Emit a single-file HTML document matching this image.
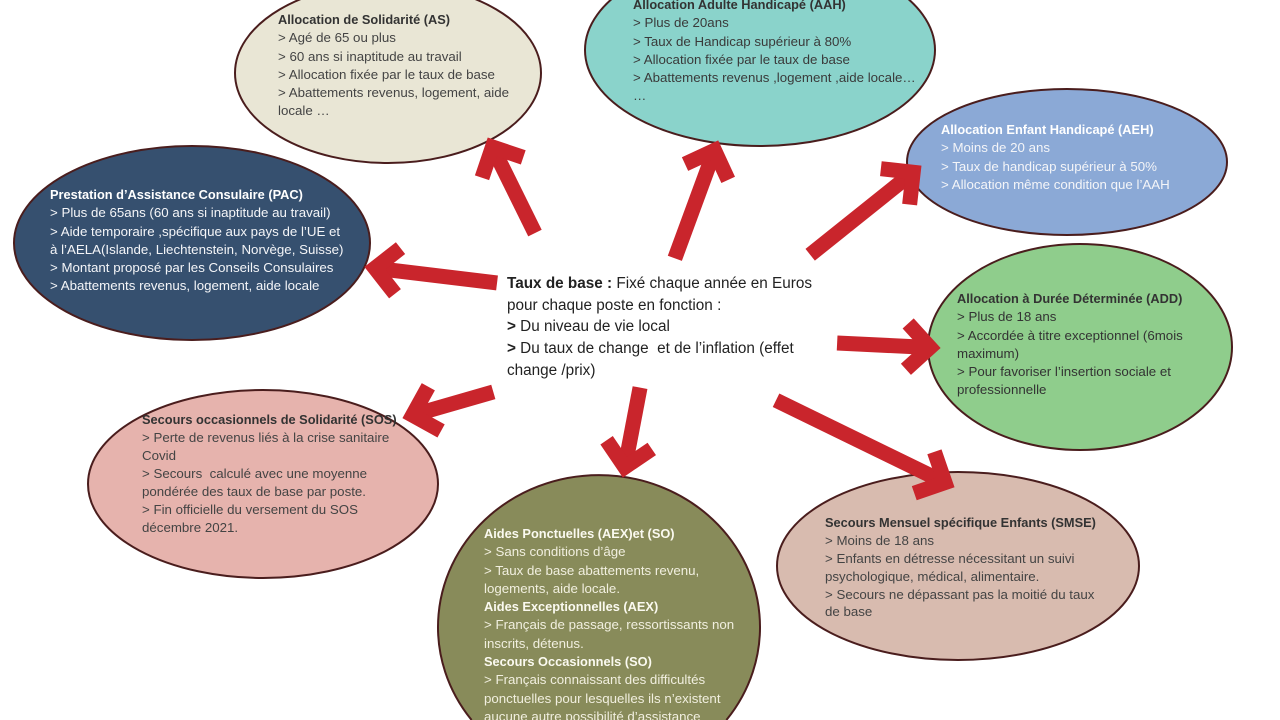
<!DOCTYPE html>
<html><head><meta charset="utf-8">
<style>
html,body{margin:0;padding:0;background:#fff;width:1280px;height:720px;overflow:hidden;}
#c{position:relative;width:1280px;height:720px;overflow:hidden;background:#fff;}
svg{position:absolute;left:0;top:0;}
.t{position:absolute;font-family:"Liberation Sans",sans-serif;font-size:13.3px;line-height:18.3px;white-space:nowrap;color:#444;}
.t b{font-size:12.8px;font-weight:bold;color:#333;}
.t div{height:18.3px;}
.w{color:#f4f5f8;} .w b{color:#fff;}
.o{color:#f1efdf;} .o b{color:#fbfaf0;}
#ctr{position:absolute;left:507px;top:273px;font-family:"Liberation Sans",sans-serif;font-size:15.3px;line-height:21.7px;color:#222;white-space:nowrap;}
#ctr div{height:21.7px;}
</style></head><body><div id="c">
<svg width="1280" height="720" viewBox="0 0 1280 720">
 <g stroke="#4a1d1d" stroke-width="2">
  <ellipse cx="388" cy="73" rx="153" ry="90" fill="#e9e6d5"/>
  <ellipse cx="760" cy="50" rx="175" ry="96" fill="#8ad3cb"/>
  <ellipse cx="1067" cy="162" rx="160" ry="73" fill="#8ba9d6"/>
  <ellipse cx="192" cy="243" rx="178" ry="97" fill="#36506f"/>
  <ellipse cx="1080" cy="347" rx="152" ry="103" fill="#8fcd8c"/>
  <ellipse cx="263" cy="484" rx="175" ry="94" fill="#e6b3ad"/>
  <path d="M471.6,720 A161,152 0 1,1 726.4,720 Z" fill="#888b5a" stroke="none"/>
  <path d="M471.6,720 A161,152 0 1,1 726.4,720" fill="none"/>
  <ellipse cx="958" cy="566" rx="181" ry="94" fill="#d8bbaf"/>
 </g>
 <g stroke="#c9252c" stroke-width="15" fill="none" stroke-linecap="butt" stroke-linejoin="miter" stroke-miterlimit="10">
  <g transform="translate(488,138) rotate(-116.3)"><line x1="-106" y1="0" x2="-10" y2="0"/><polyline points="-33,-23 -10,0 -33,23"/></g>
  <g transform="translate(718,141) rotate(-69.8)"><line x1="-125" y1="0" x2="-10" y2="0"/><polyline points="-33,-23 -10,0 -33,23"/></g>
  <g transform="translate(365,267) rotate(-173.1)"><line x1="-133" y1="0" x2="-10" y2="0"/><polyline points="-33,-23 -10,0 -33,23"/></g>
  <g transform="translate(921,166) rotate(-38.7)"><line x1="-142" y1="0" x2="-10" y2="0"/><polyline points="-33,-23 -10,0 -33,23"/></g>
  <g transform="translate(940,348) rotate(2.8)"><line x1="-103" y1="0" x2="-10" y2="0"/><polyline points="-33,-23 -10,0 -33,23"/></g>
  <g transform="translate(403,418) rotate(163.9)"><line x1="-94" y1="0" x2="-10" y2="0"/><polyline points="-33,-23 -10,0 -33,23"/></g>
  <g transform="translate(623,477) rotate(100.8)"><line x1="-91" y1="0" x2="-10" y2="0"/><polyline points="-33,-23 -10,0 -33,23"/></g>
  <g transform="translate(954,487) rotate(26)"><line x1="-198" y1="0" x2="-10" y2="0"/><polyline points="-33,-23 -10,0 -33,23"/></g>
 </g>
</svg>

<div class="t" style="left:278px;top:11px;line-height:18.5px">
 <div><b>Allocation de Solidarité (AS)</b></div>
 <div>&gt; Agé de 65 ou plus</div>
 <div>&gt; 60 ans si inaptitude au travail</div>
 <div>&gt; Allocation fixée par le taux de base</div>
 <div>&gt; Abattements revenus, logement, aide</div>
 <div>locale …</div>
</div>

<div class="t" style="left:633px;top:-4px;color:#3a3a3a">
 <div><b>Allocation Adulte Handicapé (AAH)</b></div>
 <div>&gt; Plus de 20ans</div>
 <div>&gt; Taux de Handicap supérieur à 80%</div>
 <div>&gt; Allocation fixée par le taux de base</div>
 <div>&gt; Abattements revenus ,logement ,aide locale…</div>
 <div>…</div>
</div>

<div class="t w" style="left:941px;top:121px">
 <div><b>Allocation Enfant Handicapé (AEH)</b></div>
 <div>&gt; Moins de 20 ans</div>
 <div>&gt; Taux de handicap supérieur à 50%</div>
 <div>&gt; Allocation même condition que l’AAH</div>
</div>

<div class="t w" style="left:50px;top:186px">
 <div><b>Prestation d’Assistance Consulaire (PAC)</b></div>
 <div>&gt; Plus de 65ans (60 ans si inaptitude au travail)</div>
 <div>&gt; Aide temporaire ,spécifique aux pays de l’UE et</div>
 <div>à l’AELA(Islande, Liechtenstein, Norvège, Suisse)</div>
 <div>&gt; Montant proposé par les Conseils Consulaires</div>
 <div>&gt; Abattements revenus, logement, aide locale</div>
</div>

<div id="ctr">
 <div><b>Taux de base :</b> Fixé chaque année en Euros</div>
 <div>pour chaque poste en fonction :</div>
 <div><b>&gt;</b> Du niveau de vie local</div>
 <div><b>&gt;</b> Du taux de change&nbsp; et de l’inflation (effet</div>
 <div>change /prix)</div>
</div>

<div class="t" style="left:957px;top:290px;color:#333">
 <div><b>Allocation à Durée Déterminée (ADD)</b></div>
 <div>&gt; Plus de 18 ans</div>
 <div>&gt; Accordée à titre exceptionnel (6mois</div>
 <div>maximum)</div>
 <div>&gt; Pour favoriser l’insertion sociale et</div>
 <div>professionnelle</div>
</div>

<div class="t" style="left:142px;top:411px;line-height:18px">
 <div style="height:18px"><b>Secours occasionnels de Solidarité (SOS)</b></div>
 <div style="height:18px">&gt; Perte de revenus liés à la crise sanitaire</div>
 <div style="height:18px">Covid</div>
 <div style="height:18px">&gt; Secours&nbsp; calculé avec une moyenne</div>
 <div style="height:18px">pondérée des taux de base par poste.</div>
 <div style="height:18px">&gt; Fin officielle du versement du SOS</div>
 <div style="height:18px">décembre 2021.</div>
</div>

<div class="t o" style="left:484px;top:525px;height:195px;overflow:hidden">
 <div><b>Aides Ponctuelles (AEX)et (SO)</b></div>
 <div>&gt; Sans conditions d’âge</div>
 <div>&gt; Taux de base abattements revenu,</div>
 <div>logements, aide locale.</div>
 <div><b>Aides Exceptionnelles (AEX)</b></div>
 <div>&gt; Français de passage, ressortissants non</div>
 <div>inscrits, détenus.</div>
 <div><b>Secours Occasionnels (SO)</b></div>
 <div>&gt; Français connaissant des difficultés</div>
 <div>ponctuelles pour lesquelles ils n’existent</div>
 <div style="height:12px;overflow:hidden">aucune autre possibilité d’assistance</div>
</div>

<div class="t" style="left:825px;top:514px;line-height:17.9px">
 <div style="height:17.9px"><b>Secours Mensuel spécifique Enfants (SMSE)</b></div>
 <div style="height:17.9px">&gt; Moins de 18 ans</div>
 <div style="height:17.9px">&gt; Enfants en détresse nécessitant un suivi</div>
 <div style="height:17.9px">psychologique, médical, alimentaire.</div>
 <div style="height:17.9px">&gt; Secours ne dépassant pas la moitié du taux</div>
 <div style="height:17.9px">de base</div>
</div>
</div></body></html>
